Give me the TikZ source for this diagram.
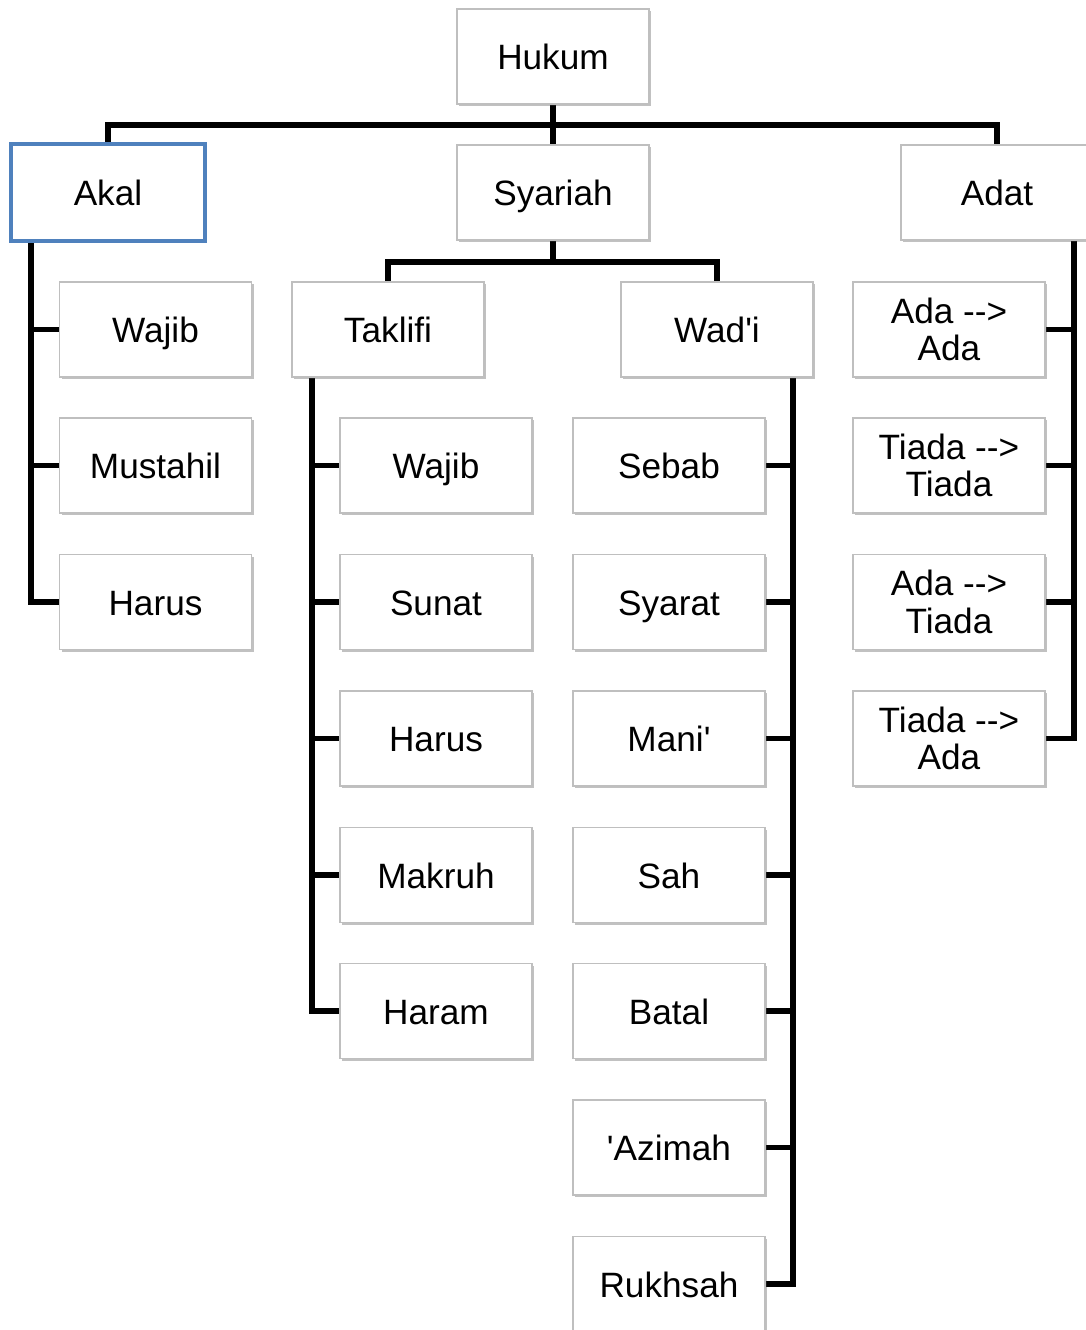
\documentclass[tikz,border=0pt]{standalone}
\usepackage{fontspec}
\setmainfont{Liberation Sans}
\usetikzlibrary{shadows, backgrounds}

\definecolor{akalbiru}{RGB}{79,129,189}
\tikzset{
  kotak/.style={draw=black!25, fill=white, line width=0.6pt,
    minimum width=96pt, minimum height=47.5pt, align=center,
    font=\fontsize{17.6}{18.6}\selectfont,
    drop shadow={shadow xshift=1.1pt, shadow yshift=-1.1pt, fill=black!70, opacity=0.35}},
  satu/.style={kotak, text height=13.4pt, text depth=0pt},
  garis/.style={line width=2.6pt},
}

\begin{document}
\begin{tikzpicture}[x=0.5pt, y=-0.5pt]
    \useasboundingbox (0,0) rectangle (1086,1330);
    % level one
    \node[satu] (hukum) at (553,56.5) {Hukum};
    \node[satu, draw=akalbiru, line width=1.6pt, minimum width=97pt, minimum height=48.5pt] (akal) at (108,192.5) {Akal};
    \node[satu] (syariah) at (553,192.5) {Syariah};
    \node[satu] (adat) at (997,192.5) {Adat};
    \node[satu] (taklifi) at (388,329.5) {Taklifi};
    \node[satu] (wadi) at (717,329.5) {Wad\textquotesingle i};
    % children
    \foreach \nama/\y [count=\i] in {Wajib/329.5, Mustahil/465.5, Harus/602}
        \node[satu] (akal\i) at (155.5,\y) {\nama};
    \foreach \nama/\y [count=\i] in {Wajib/465.5, Sunat/602, Harus/738.5, Makruh/875, Haram/1011}
        \node[satu] (taklifi\i) at (436,\y) {\nama};
    \foreach \nama/\y [count=\i] in {Sebab/465.5, Syarat/602, Mani\textquotesingle/738.5, Sah/875, Batal/1011, \textquotesingle Azimah/1147.5, Rukhsah/1284}
        \node[satu] (wadi\i) at (669,\y) {\nama};
    \foreach \nama/\y [count=\i] in {Ada -{}-{}>\\Ada/329.5, Tiada -{}-{}>\\Tiada/465.5, Ada -{}-{}>\\Tiada/602, Tiada -{}-{}>\\Ada/738.5}
        \node[kotak] (adat\i) at (949,\y) {\nama};

    \coordinate (hukumbus) at (553,125);
    \coordinate (syariahbus) at (553,262);
    \coordinate (akalturun) at (31,241);
    \coordinate (taklifiturun) at (312,377);
    \coordinate (waditurun) at (793,377);
    \coordinate (adatturun) at (1074,240);

    \begin{scope}[on background layer]
        \draw[garis] (hukum.south) -- (syariah.north);
        \draw[garis] (akal.north) |- (hukumbus) -| (adat.north);
        \draw[garis] (syariah.south) -- (syariahbus);
        \draw[garis] (taklifi.north) |- (syariahbus) -| (wadi.north);
        \foreach \i in {1,...,3} \draw[garis] (akalturun) |- (akal\i.west);
        \foreach \i in {1,...,5} \draw[garis] (taklifiturun) |- (taklifi\i.west);
        \foreach \i in {1,...,7} \draw[garis] (waditurun) |- (wadi\i.east);
        \foreach \i in {1,...,4} \draw[garis] (adatturun) |- (adat\i.east);
    \end{scope}
\end{tikzpicture}
\end{document}
